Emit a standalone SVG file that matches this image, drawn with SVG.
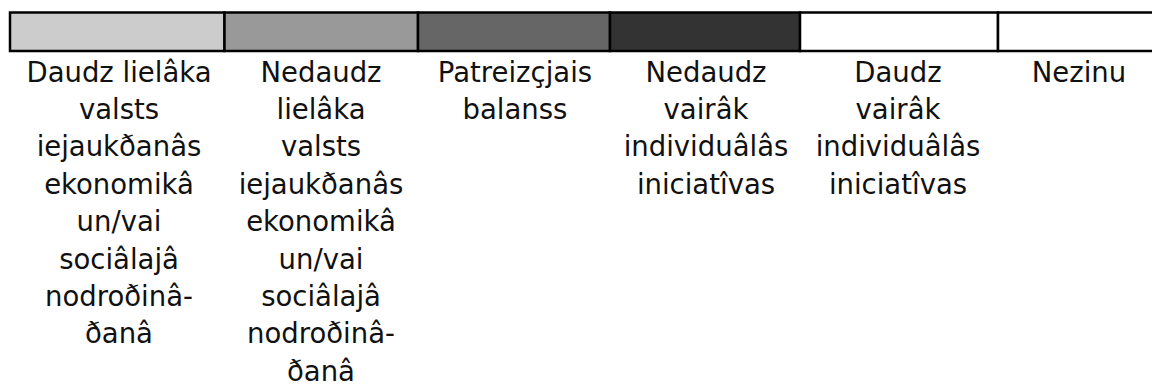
<svg xmlns="http://www.w3.org/2000/svg" width="1152" height="385" viewBox="0 0 1152 385">
<style>
.box{stroke:#000;stroke-width:2.5}
.lbl{font-family:"DejaVu Sans","Liberation Sans",sans-serif;font-size:27.5px;fill:#111;text-anchor:middle}
</style>
<rect width="1152" height="385" fill="#fff"/>
<g id="item1">
<rect class="box" x="10" y="12.5" width="214.5" height="38.5" fill="#cccccc"/>
<text class="lbl"><tspan x="119" y="81.5">Daudz lielâka</tspan><tspan x="119" y="118.9">valsts</tspan><tspan x="119" y="156.3">iejaukðanâs</tspan><tspan x="119" y="193.7">ekonomikâ</tspan><tspan x="119" y="231.1">un/vai</tspan><tspan x="119" y="268.5">sociâlajâ</tspan><tspan x="119" y="305.9">nodroðinâ-</tspan><tspan x="119" y="343.3">ðanâ</tspan></text>
</g>
<g id="item2">
<rect class="box" x="224.5" y="12.5" width="193.5" height="38.5" fill="#999999"/>
<text class="lbl"><tspan x="321" y="81.5">Nedaudz</tspan><tspan x="321" y="118.9">lielâka</tspan><tspan x="321" y="156.3">valsts</tspan><tspan x="321" y="193.7">iejaukðanâs</tspan><tspan x="321" y="231.1">ekonomikâ</tspan><tspan x="321" y="268.5">un/vai</tspan><tspan x="321" y="305.9">sociâlajâ</tspan><tspan x="321" y="343.3">nodroðinâ-</tspan><tspan x="321" y="380.7">ðanâ</tspan></text>
</g>
<g id="item3">
<rect class="box" x="418" y="12.5" width="192" height="38.5" fill="#666666"/>
<text class="lbl"><tspan x="515" y="81.5">Patreizçjais</tspan><tspan x="515" y="118.9">balanss</tspan></text>
</g>
<g id="item4">
<rect class="box" x="610" y="12.5" width="190" height="38.5" fill="#333333"/>
<text class="lbl"><tspan x="706" y="81.5">Nedaudz</tspan><tspan x="706" y="118.9">vairâk</tspan><tspan x="706" y="156.3">individuâlâs</tspan><tspan x="706" y="193.7">iniciatîvas</tspan></text>
</g>
<g id="item5">
<rect class="box" x="800" y="12.5" width="198" height="38.5" fill="#ffffff"/>
<text class="lbl"><tspan x="898" y="81.5">Daudz</tspan><tspan x="898" y="118.9">vairâk</tspan><tspan x="898" y="156.3">individuâlâs</tspan><tspan x="898" y="193.7">iniciatîvas</tspan></text>
</g>
<g id="item6">
<rect class="box" x="998" y="12.5" width="170" height="38.5" fill="#ffffff"/>
<text class="lbl"><tspan x="1079" y="81.5">Nezinu</tspan></text>
</g>
<g id="connectors"/>
</svg>
